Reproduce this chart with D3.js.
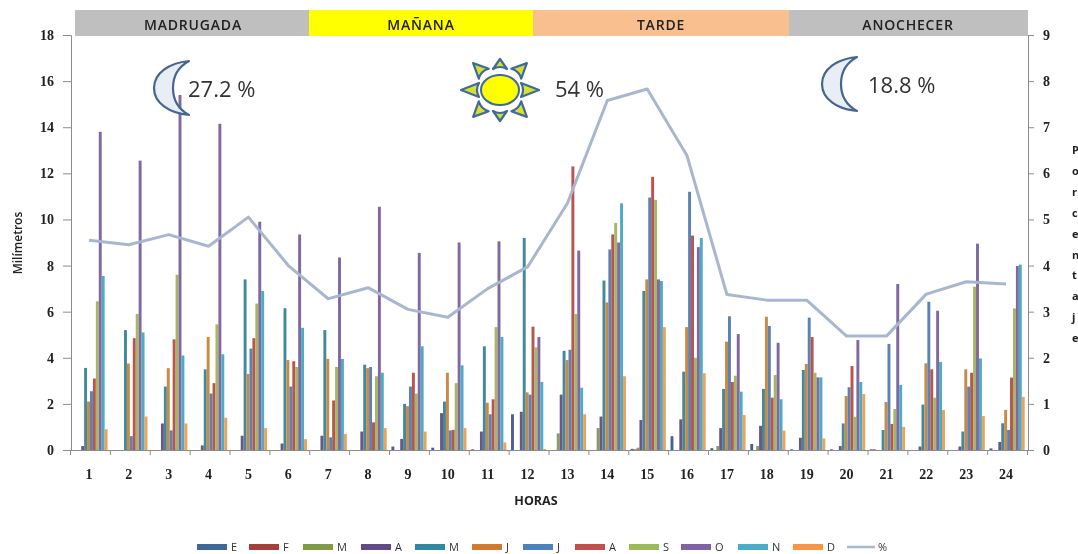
<!DOCTYPE html>
<html><head><meta charset="utf-8">
<script src="https://cdn.jsdelivr.net/npm/d3@7"></script>
<style>html,body{margin:0;padding:0;background:#fff}svg{display:block}</style>
</head><body><svg id="c" width="1078" height="554"></svg>
<script>
const hours = d3.range(1,25).map(String);
const monthLabels = ["E","F","M","A","M","J","J","A","S","O","N","D"];
const monthColors = ["#4a6491","#a3504e","#8a9c5c","#6b5788","#43899a","#c98a45","#5a82b4","#b9544f","#a8b565","#81699f","#4faac4","#eda25a"];
const sE = [0,0,0,0,0,0,0,0,.15,.1,.03,1.55,0,0,.05,.6,.08,.26,.03,.03,.03,0,0,.07];
const sF = [0,0,0,0,0,0,0,0,0,0,0,0,0,0,.03,0,0,0,0,0,.03,0,0,0];
const sM = [0,0,0,0,0,0,0,0,0,0,0,0,.72,.95,.1,0,.17,.17,0,0,0,0,0,0];
const sA = [.17,0,1.15,.2,.62,.28,.62,.8,.48,1.6,.8,1.66,2.4,1.45,1.3,1.33,.95,1.05,.53,.17,0,.15,.15,.35];
const sM2 = [3.56,5.2,2.75,3.5,7.4,6.15,5.2,3.7,2.0,2.1,4.5,9.2,4.3,7.35,6.9,3.4,2.65,2.65,3.47,1.15,.87,1.97,.8,1.16];
const sJ = [2.1,3.75,3.55,4.9,3.3,3.9,3.95,3.55,1.9,3.35,2.05,2.5,3.9,6.4,7.4,5.33,4.7,5.78,3.73,2.34,2.08,3.76,3.5,1.74];
const sJ2 = [2.55,.6,.85,2.45,4.4,2.75,.55,3.6,2.75,.85,1.55,2.4,4.35,8.7,10.95,11.2,5.8,5.38,5.74,2.72,4.6,6.43,2.75,.87];
const sA2 = [3.1,4.85,4.8,2.9,4.85,3.85,2.15,1.2,3.35,.87,2.2,5.35,12.3,9.35,11.85,9.3,2.95,2.27,4.9,3.64,1.13,3.5,3.35,3.14];
const sS = [6.45,5.9,7.6,5.45,6.35,3.6,3.6,3.2,2.45,2.9,5.33,4.45,5.9,9.85,10.85,4.0,3.22,3.25,3.35,1.44,1.78,2.27,7.08,6.14];
const sO = [13.8,12.55,15.4,14.15,9.9,9.35,8.35,10.55,8.55,9.0,9.05,4.9,8.65,9.0,7.4,8.8,5.03,4.65,3.15,4.77,7.2,6.04,8.95,7.98];
const sN = [7.55,5.1,4.1,4.15,6.9,5.3,3.95,3.35,4.5,3.67,4.9,2.95,2.7,10.7,7.33,9.2,2.53,2.2,3.15,2.95,2.82,3.82,3.97,8.04];
const sD = [.9,1.45,1.15,1.4,.95,.47,.7,.95,.8,.95,.33,.05,1.55,3.2,5.33,3.33,1.52,.84,.5,2.43,1.0,1.74,1.47,2.3];
const monthSeries = [sE,sF,sM,sA,sM2,sJ,sJ2,sA2,sS,sO,sN,sD];
const percent = [4.55,4.45,4.67,4.42,5.05,4.0,3.28,3.52,3.05,2.88,3.5,3.97,5.35,7.58,7.83,6.38,3.37,3.25,3.25,2.47,2.47,3.38,3.65,3.6];
const periods = ["MADRUGADA","MAÑANA","TARDE","ANOCHECER"];
const periodColors = ["#bfbfbf","#ffff00","#fabf8f","#bfbfbf"];
const periodEdges = [75,309,533,789,1028];
const periodShares = ["27.2 %","54 %","18.8 %"];
const sideLabel = "Porcentaje".split("");
const legendPos = [197,249,303,361,415,472,523,575,629,681,738,793];

const svg = d3.select("#c");
const defs = svg.append("defs");
defs.append("filter").attr("id","soft").attr("x","-5%").attr("y","-5%").attr("width","110%").attr("height","110%")
  .append("feGaussianBlur").attr("stdDeviation",0.35);
const X0=70, X1=1027, Y0=450, Y1=35;
const x = d3.scaleBand().domain(hours).range([X0,X1]);
const xEdge = d3.scaleLinear().domain([0,24]).range([X0,X1]);
const inner = d3.scaleBand().domain(d3.range(12)).range([2.4,x.bandwidth()-2.3]);
const y = d3.scaleLinear().domain([0,18]).range([Y0,Y1]);
const y2 = d3.scaleLinear().domain([0,9]).range([Y0,Y1]);
const serif = "'Liberation Serif','DejaVu Serif',serif";
const sans = "'Open Sans','Noto Sans',sans-serif";

const root = svg.append("g").attr("filter","url(#soft)");

// bars
monthSeries.forEach((vals,k)=>{
  root.append("g").selectAll("rect").data(vals.map((v,i)=>({v,h:hours[i]})).filter(d=>d.v>0)).join("rect")
    .attr("x",d=>x(d.h)+inner(k)).attr("width",inner.bandwidth())
    .attr("y",d=>y(d.v)).attr("height",d=>Y0-y(d.v)).attr("fill",monthColors[k]);
});

// axes
function styleAxis(g,size){
  g.selectAll(".domain").attr("stroke","#8c8c8c");
  g.selectAll(".tick line").attr("stroke","#8c8c8c");
  g.selectAll("text").attr("font-family",serif).attr("font-size",size).attr("font-weight","bold").attr("fill","#222");
}
root.append("g").attr("transform",`translate(${X0+1},0)`)
  .call(d3.axisLeft(y).tickValues(d3.range(0,19,2)).tickSizeOuter(0).tickSize(8).tickPadding(9)).call(styleAxis,14);
root.append("g").attr("transform",`translate(${X1+1},0)`)
  .call(d3.axisRight(y2).tickValues(d3.range(0,10)).tickSizeOuter(0).tickSize(6).tickPadding(9)).call(styleAxis,14);
root.append("g").attr("transform",`translate(0,${Y0})`)
  .call(d3.axisBottom(xEdge).tickValues(d3.range(0,25)).tickFormat("").tickSizeOuter(0).tickSize(5)).call(styleAxis,14);
root.append("g").attr("transform",`translate(-1,${Y0+5})`)
  .call(d3.axisBottom(x).tickSize(0).tickPadding(14)).call(g=>g.select(".domain").remove()).call(styleAxis,14);

// line
root.append("path").datum(percent)
  .attr("d",d3.line().x((d,i)=>x(hours[i])+x.bandwidth()/2-1).y(d=>y2(d)))
  .attr("fill","none").attr("stroke","#a9b6d0").attr("stroke-width",3).attr("stroke-linejoin","round");

// period header
periods.forEach((p,i)=>{
  const a=periodEdges[i], b=periodEdges[i+1];
  root.append("rect").attr("x",a).attr("y",10).attr("width",b-a).attr("height",26).attr("fill",periodColors[i]);
  root.append("text").attr("x",[193,421,661,908][i]).attr("y",30).attr("text-anchor","middle")
    .attr("font-family",sans).attr("font-weight","600").attr("font-size",14).attr("letter-spacing",".8").attr("fill","#222").text(p);
});

// icons
function moon(tx,ty){
  root.append("path").attr("transform",`translate(${tx},${ty})`)
    .attr("d","M0,0 C-20,2 -35,12 -35,27 C-35,42 -20,52 0,54 C-11,48 -16,38 -16,27 C-16,16 -11,6 0,0 Z")
    .attr("fill","#e9edf4").attr("stroke","#44668f").attr("stroke-width",2.2).attr("stroke-linejoin","round");
}
moon(189,61); moon(857,57);
const sun = root.append("g").attr("transform","translate(500,90)");
d3.range(8).forEach(i=>{
  const diag = i%2===1;
  const len = diag?38:(i%4===0?31:39), base=diag?24:22;
  sun.append("path").attr("transform",`rotate(${i*45})`)
    .attr("d",`M0,${-len} L7,${-base+1} Q0,${-base-3} -7,${-base+1} Z`)
    .attr("fill","#d8e02e").attr("stroke","#3f6a9e").attr("stroke-width",2.2).attr("stroke-linejoin","round");
});
sun.append("ellipse").attr("rx",19).attr("ry",15).attr("fill","#ffff00").attr("stroke","#3f6a9e").attr("stroke-width",2);
[[188,periodShares[0]],[555,periodShares[1]],[868,periodShares[2]]].forEach(([px,t],i)=>{
  root.append("text").attr("x",px).attr("y",[97,97,93][i]).attr("font-family",sans).attr("font-size",22).attr("fill","#333").text(t);
});

// axis titles
root.append("text").attr("transform","translate(22,243) rotate(-90)").attr("text-anchor","middle")
  .attr("font-family",sans).attr("font-size",12).attr("font-weight","600").attr("fill","#222").text("Milímetros");
root.append("text").attr("x",536).attr("y",505).attr("text-anchor","middle")
  .attr("font-family",sans).attr("font-size",12.5).attr("font-weight","bold").attr("fill","#222").text("HORAS");
sideLabel.forEach((c,i)=>{
  root.append("text").attr("x",1072).attr("y",154+i*20.9).attr("font-family",sans).attr("font-weight","bold")
    .attr("font-size",11).attr("fill","#222").text(c);
});

// legend
const legendColors = ["#3f6797","#a33f3c","#7f9a48","#634a85","#33899f","#cf7a2f","#4f81bd","#c0504d","#9bbb59","#8064a2","#4bacc6","#f79646"];
monthLabels.forEach((m,i)=>{
  root.append("rect").attr("x",legendPos[i]).attr("y",544).attr("width",30).attr("height",6).attr("fill",legendColors[i]);
  root.append("text").attr("x",legendPos[i]+34).attr("y",551).attr("font-family",sans).attr("font-size",11).attr("fill","#333").text(m);
});
root.append("line").attr("x1",847).attr("x2",875).attr("y1",547).attr("y2",547).attr("stroke","#a9b6d0").attr("stroke-width",2.5);
root.append("text").attr("x",878).attr("y",551).attr("font-family",sans).attr("font-size",11).attr("fill","#333").text("%");
</script></body></html>
